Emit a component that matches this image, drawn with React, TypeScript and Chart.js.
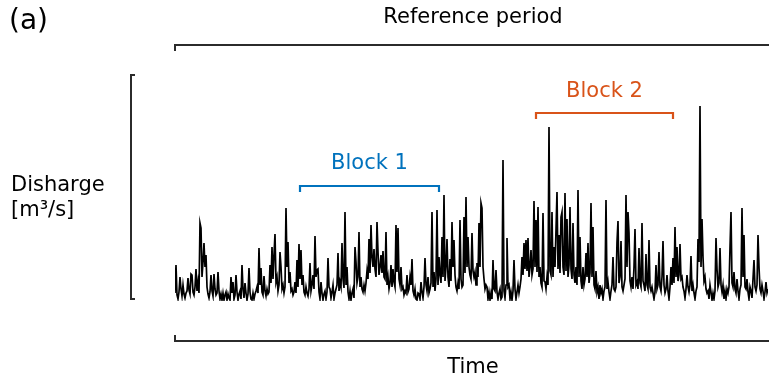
import React, { useEffect, useRef } from "react";
import { Chart, registerables } from "chart.js";

Chart.register(...registerables);

// Discharge record (arbitrary units), one value per time step, 20 steps per row
const discharge: number[] = [
  4, 32, 2, -2, 5, 20, 8, 1, 12, 3, -1, 4, 6, 19, 7, 3, 23, 22, 5, 2,
  10, 28, 6, 15, 4, 74, 69, 20, 35, 54, 30, 42, 10, 3, -1, 5, 22, 6, 1, 23,
  8, 2, 4, 25, 6, -2, 3, -3, 4, -3, 2, 5, -3, 3, -1, -3, 20, 4, 15, -2,
  2, 22, 5, -3, 3, 6, -2, 32, 8, -1, 14, 4, -3, 3, 29, 5, -2, -3, 4, -2,
  3, 6, 10, 4, 49, 12, 29, 5, 2, 21, 6, 1, 8, 3, 5, 32, 14, 50, 18, 42,
  63, 15, 20, 6, 12, 45, 30, 8, 12, 4, 10, 89, 30, 55, 14, 25, 6, 8, 2, 5,
  15, 4, 37, 10, 53, 18, 47, 12, 22, 5, 2, 10, 4, 1, 8, 34, 6, 12, 22, 8,
  61, 20, 27, 28, 5, -2, 15, 4, -3, 3, 6, -2, 5, 39, 10, 8, -1, 5, 12, -2,
  4, 8, 12, 44, 6, 15, 10, 54, 18, 9, 85, 12, 30, 5, -2, 6, -3, 4, 8, -1,
  50, 35, 14, 20, 65, 10, 20, 8, 5, 12, 6, 14, 26, 18, 58, 24, 72, 40, 30, 48,
  28, 20, 75, 45, 22, 30, 42, 24, 46, 20, 18, 65, 12, 20, 8, 14, 32, 10, 28, 15,
  10, 72, 25, 69, 18, 12, 30, 8, 10, 2, 6, 4, 22, 5, 8, 20, 12, 38, 6, 2,
  8, -2, -3, 4, 3, -2, 15, 5, -1, 10, 39, 12, 6, 20, 4, 8, 14, 85, 10, 25,
  6, 18, 87, 12, 40, 22, 14, 60, 20, 102, 16, 30, 58, 20, 10, 38, 16, 75, 30, 57,
  22, 10, 6, 14, 8, 77, 18, 10, 12, 80, 24, 100, 30, 60, 30, 22, 18, 64, 26, 20,
  25, 12, 34, 20, 74, 30, 94, 89, 30, 18, 8, 12, 10, -2, 5, -3, 4, -2, 37, 8,
  6, 27, 5, -2, 4, 8, -2, 0, 137, 6, -1, 12, 59, 10, 12, -2, 5, -3, 6, 37,
  8, -2, 5, 12, 4, 10, 18, 40, 22, 54, 28, 57, 26, 59, 20, 30, 47, 22, 28, 96,
  30, 77, 25, 90, 20, 30, 14, 10, 84, 16, 15, 8, 20, 12, 170, 26, 22, 85, 20, 50,
  30, 67, 105, 28, 62, 24, 80, 85, 30, 22, 104, 26, 78, 20, 32, 90, 28, 18, 74, 22,
  14, 30, 12, 107, 20, 60, 16, 8, 30, 12, 18, 44, 20, 54, 14, 24, 94, 20, 70, 12,
  8, 26, 5, 10, -2, 12, 4, 8, -2, 6, 10, 97, 8, 15, 5, -2, 6, 12, 40, 8,
  6, 10, 55, 76, 14, 20, 56, 10, 6, 12, 18, 102, 30, 85, 64, 16, 10, 20, 8, 30,
  68, 12, 15, 8, 49, 14, 10, 74, 16, 12, 6, 43, 12, 8, 57, 10, 6, 10, 4, -2,
  5, 32, 8, 12, 45, 10, 6, 20, 56, 12, 4, 8, 22, 6, -2, 10, 30, 12, 39, 14,
  70, 20, 50, 16, 22, 53, 18, 20, 10, 6, -1, 8, 22, 10, 5, 12, 41, 6, 12, 4,
  -2, 6, 10, 58, 35, 191, 30, 78, 40, 16, 20, 8, 4, 6, -2, 12, 5, -3, 4, -2,
  6, 59, 28, 10, 14, 49, 12, 5, 12, -2, 6, -2, 8, 4, 10, 49, 85, 14, 10, 25,
  8, 4, 18, 6, -2, 8, 12, 89, 20, 62, 10, 8, 18, 5, -2, 10, 6, -1, 18, 37,
  10, 6, 12, 62, 30, 8, 4, 12, 6, -2, 5, 15, 4, 8,
];

// Time windows (in time steps) of the two blocks within the reference period
const block1: [number, number] = [125, 264];
const block2: [number, number] = [361, 498];

const FONT = "'DejaVu Sans', Verdana, sans-serif";
const INK = "#2b2b2b";
const BLUE = "#0072BD";
const ORANGE = "#D95319";

const annotations = {
  id: "periodAnnotations",
  afterDraw(chart: any) {
    const { ctx, chartArea, scales } = chart;
    const xs = scales.x;
    const ys = scales.y;
    const left = chartArea.left;
    const right = chart.width;

    ctx.save();
    ctx.lineCap = "butt";

    const bracket = (x0: number, x1: number, y: number, dy: number, color: string, w: number) => {
      ctx.strokeStyle = color;
      ctx.lineWidth = w;
      ctx.beginPath();
      ctx.moveTo(x0, y + dy);
      ctx.lineTo(x0, y);
      ctx.lineTo(x1, y);
      ctx.lineTo(x1, y + dy);
      ctx.stroke();
    };

    // reference period (top) and time axis (bottom)
    ctx.strokeStyle = INK;
    ctx.lineWidth = 2;
    ctx.beginPath();
    ctx.moveTo(left, 51);
    ctx.lineTo(left, 45);
    ctx.lineTo(right, 45);
    ctx.stroke();
    ctx.beginPath();
    ctx.moveTo(left, 335);
    ctx.lineTo(left, 341);
    ctx.lineTo(right, 341);
    ctx.stroke();

    // discharge axis bracket
    const yTop = ys.getPixelForValue(ys.max);
    const yBot = ys.getPixelForValue(-2);
    ctx.beginPath();
    ctx.moveTo(135, yTop);
    ctx.lineTo(131, yTop);
    ctx.lineTo(131, yBot);
    ctx.lineTo(135, yBot);
    ctx.stroke();

    // blocks
    const b1a = xs.getPixelForValue(block1[0]);
    const b1b = xs.getPixelForValue(block1[1]);
    const b2a = xs.getPixelForValue(block2[0]);
    const b2b = xs.getPixelForValue(block2[1]);
    bracket(b1a, b1b, 186, 6, BLUE, 2.2);
    bracket(b2a, b2b, 113, 6, ORANGE, 2.2);

    ctx.textBaseline = "middle";
    ctx.font = `21px ${FONT}`;
    ctx.textAlign = "center";
    ctx.fillStyle = BLUE;
    ctx.fillText("Block 1", (b1a + b1b) / 2, 164);
    ctx.fillStyle = ORANGE;
    ctx.fillText("Block 2", (b2a + b2b) / 2, 92);

    ctx.fillStyle = "#000";
    ctx.fillText("Reference period", 473, 18);
    ctx.fillText("Time", 473, 368);
    ctx.textAlign = "left";
    ctx.fillText("Disharge", 11, 186);
    ctx.fillText("[m³/s]", 11, 211);
    ctx.font = `28px ${FONT}`;
    ctx.fillText("(a)", 9, 22);

    ctx.restore();
  },
};

export default function App() {
  const ref = useRef<HTMLCanvasElement | null>(null);

  useEffect(() => {
    if (!ref.current) return;
    const chart = new Chart(ref.current, {
      type: "line",
      data: {
        datasets: [
          {
            label: "Discharge",
            data: discharge.map((v, i) => ({ x: i, y: v })),
            borderColor: "#000000",
            borderWidth: 1.7,
            pointRadius: 0,
            tension: 0,
            fill: false,
          },
        ],
      },
      options: {
        animation: false,
        responsive: false,
        maintainAspectRatio: false,
        layout: { padding: { left: 175, right: 1, top: 75, bottom: 86 } },
        scales: {
          x: { type: "linear", min: 0, max: 593, display: false },
          y: { min: -4, max: 222, display: false },
        },
        plugins: {
          legend: { display: false },
          tooltip: { enabled: false },
          title: { display: false },
        },
      },
      plugins: [annotations],
    });
    return () => chart.destroy();
  }, []);

  return (
    <div style={{ position: "absolute", left: 0, top: 0, width: 769, height: 387, background: "#fff" }}>
      <canvas ref={ref} width={769} height={387} style={{ width: 769, height: 387, display: "block" }} />
    </div>
  );
}
